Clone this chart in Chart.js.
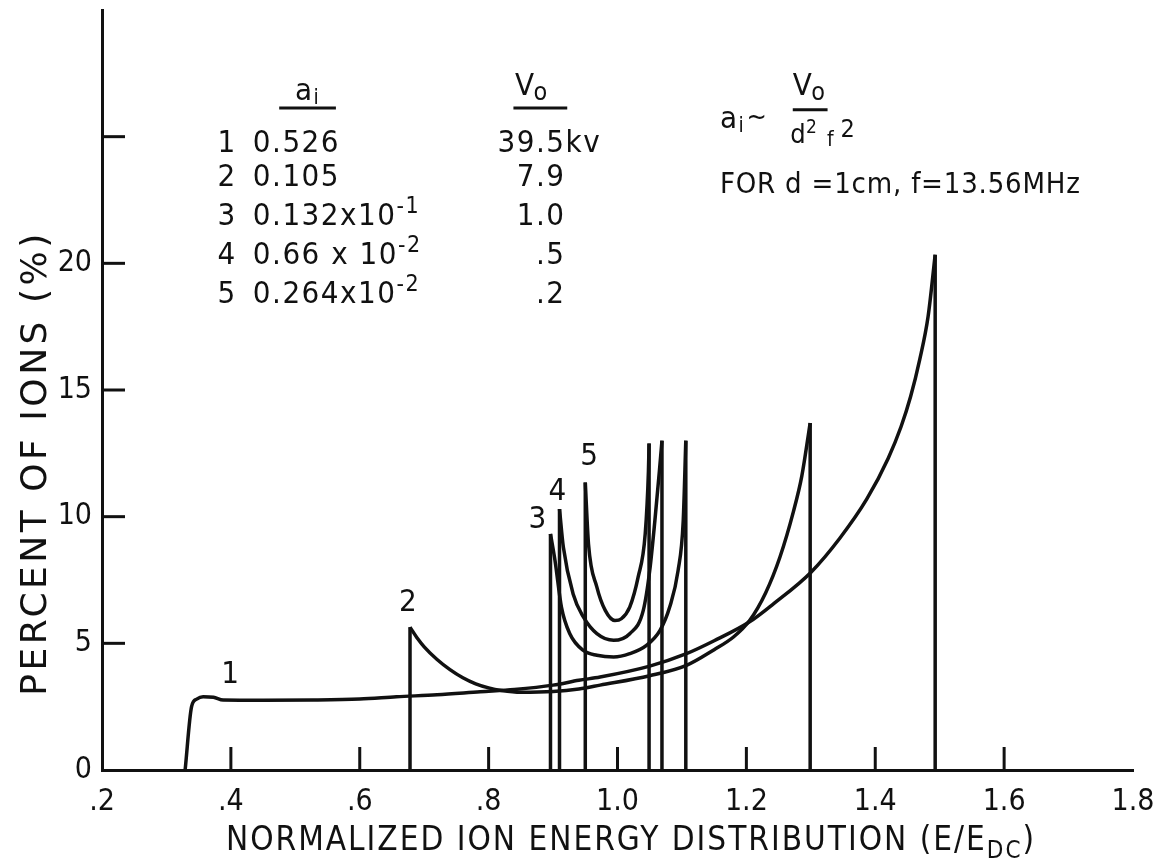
<!DOCTYPE html>
<html>
<head>
<meta charset="utf-8">
<title>Normalized ion energy distribution</title>
<script src="https://cdn.jsdelivr.net/npm/chart.js@4.4.1/dist/chart.umd.min.js"></script>
<style>
  body { margin: 0; background: #fff; }
  canvas { display: block; }
</style>
</head>
<body>
<canvas id="ionChart" width="1162" height="861"></canvas>
<script>

// ------------ AXES ------------ //

var xTicks = [0.2, 0.4, 0.6, 0.8, 1.0, 1.2, 1.4, 1.6, 1.8];
var xTickLabels = [".2", ".4", ".6", ".8", "1.0", "1.2", "1.4", "1.6", "1.8"];
var yTicks = [0, 5, 10, 15, 20, 25];
var yTickLabels = ["0", "5", "10", "15", "20", ""];

// ------------ CURVES ------------ //

var curve1X = [0.329, 0.339, 0.347, 0.357, 0.373, 0.388, 0.45, 0.528, 0.60, 0.657, 0.72, 0.787, 0.84, 0.90, 0.94, 0.973, 1.05, 1.107, 1.15, 1.205, 1.242, 1.30, 1.345, 1.387, 1.42, 1.44, 1.455, 1.469, 1.482, 1.493];
var curve1Y = [0, 2.5, 2.8, 2.89, 2.87, 2.76, 2.75, 2.76, 2.8, 2.89, 2.97, 3.09, 3.18, 3.35, 3.54, 3.67, 4.1, 4.59, 5.1, 5.85, 6.56, 7.8, 9.15, 10.7, 12.3, 13.55, 14.75, 16.2, 17.9, 20.34];

var curve2X = [0.678, 0.69, 0.70, 0.72, 0.74, 0.76, 0.78, 0.80, 0.82, 0.85, 0.90, 0.94, 0.973, 1.05, 1.107, 1.15, 1.18, 1.205, 1.23, 1.252, 1.273, 1.286, 1.299];
var curve2Y = [5.64, 5.18, 4.86, 4.36, 3.96, 3.64, 3.40, 3.24, 3.14, 3.07, 3.1, 3.2, 3.35, 3.72, 4.13, 4.75, 5.25, 5.9, 7.0, 8.4, 10.2, 11.6, 13.7];

var curve3X = [0.896, 0.903, 0.913, 0.926, 0.947, 0.968, 0.994, 1.019, 1.045, 1.066, 1.081, 1.094, 1.102, 1.106];
var curve3Y = [9.32, 8.27, 6.43, 5.38, 4.72, 4.53, 4.46, 4.59, 4.92, 5.51, 6.43, 7.87, 9.84, 13.0];

var curve4X = [0.910, 0.916, 0.931, 0.947, 0.968, 0.994, 1.019, 1.040, 1.050, 1.058, 1.065, 1.069];
var curve4Y = [10.3, 8.79, 6.96, 6.04, 5.38, 5.12, 5.38, 6.3, 7.87, 9.84, 11.8, 13.0];

var curve5X = [0.950, 0.955, 0.968, 0.981, 0.996, 1.006, 1.019, 1.032, 1.043, 1.048, 1.049];
var curve5Y = [11.35, 8.92, 7.22, 6.30, 5.9, 5.97, 6.43, 7.61, 9.32, 11.8, 12.89];

var curveNames = ["1", "2", "3", "4", "5"];

// ------------ TABLE ------------ //

var tableA = ["0.526", "0.105", "0.132x10", "0.66 x 10", "0.264x10"];
var tableAExp = ["", "", "-1", "-2", "-2"];
var tableV = ["39.5kv", "7.9", "1.0", ".5", ".2"];

var ink = "#111";
var family = "'DejaVu Sans Condensed', 'DejaVu Sans', sans-serif";
function font(size, fam) {
    return size + "px " + (fam || family);
}

var curves = [
    { xs: curve1X, ys: curve1Y },
    { xs: curve2X, ys: curve2Y },
    { xs: curve3X, ys: curve3Y },
    { xs: curve4X, ys: curve4Y },
    { xs: curve5X, ys: curve5Y }
];

var datasets = [];
curves.forEach(function (c, i) {
    var pts = c.xs.map(function (x, k) { return { x: x, y: c.ys[k] }; });
    datasets.push({
        label: "curve " + curveNames[i],
        data: pts,
        borderColor: ink,
        borderWidth: 3.5,
        pointRadius: 0,
        fill: false,
        tension: 0.4,
        cubicInterpolationMode: "monotone"
    });
    // vertical edges of the distribution, down to the baseline
    var first = pts[0], last = pts[pts.length - 1];
    var edges = [];
    if (first.y > 0) edges.push([{ x: first.x, y: 0 }, first]);
    edges.push([last, { x: last.x, y: 0 }]);
    edges.forEach(function (e) {
        datasets.push({
            data: e,
            borderColor: ink,
            borderWidth: 3.5,
            pointRadius: 0,
            fill: false,
            tension: 0
        });
    });
});

// inner ticks, labels, table, formula and axis titles
var annotate = {
    id: "annotate",
    afterDraw: function (chart) {
        var ctx = chart.ctx, xs = chart.scales.x, ys = chart.scales.y, area = chart.chartArea;
        var X = function (v) { return xs.getPixelForValue(v); };
        var Y = function (v) { return ys.getPixelForValue(v); };
        ctx.save();
        ctx.strokeStyle = ink;
        ctx.fillStyle = ink;
        ctx.lineWidth = 3;

        xTicks.forEach(function (v) {
            if (v <= xs.min || v >= xs.max) return;
            ctx.beginPath();
            ctx.moveTo(X(v), area.bottom);
            ctx.lineTo(X(v), area.bottom - 23);
            ctx.stroke();
        });
        yTicks.forEach(function (v) {
            if (v <= ys.min) return;
            ctx.beginPath();
            ctx.moveTo(area.left, Y(v));
            ctx.lineTo(area.left + 23, Y(v));
            ctx.stroke();
        });

        function text(str, x, y, size, align, fam) {
            ctx.font = font(size, fam);
            ctx.textAlign = align || "left";
            ctx.fillText(str, x, y);
            return ctx.measureText(str).width;
        }

        ctx.letterSpacing = "1.5px";

        // curve numbers
        var labelPos = [[0.400, 3.75], [0.676, 6.59], [0.877, 9.87], [0.908, 10.98], [0.957, 12.36]];
        ctx.textBaseline = "middle";
        curveNames.forEach(function (n, i) {
            text(n, X(labelPos[i][0]), Y(labelPos[i][1]), 31, "center");
        });
        ctx.textBaseline = "alphabetic";

        // table headers
        var w = text("a", X(0.4995), Y(26.45), 31);
        text("i", X(0.4995) + w, Y(26.3), 21);
        ctx.beginPath();
        ctx.moveTo(X(0.475), Y(26.13));
        ctx.lineTo(X(0.563), Y(26.13));
        ctx.moveTo(X(0.8385), Y(26.13));
        ctx.lineTo(X(0.922), Y(26.13));
        ctx.stroke();
        w = text("V", X(0.841), Y(26.65), 31);
        text("o", X(0.841) + w - 2, Y(26.45), 25);

        // table rows
        var rowY = [24.40, 23.06, 21.52, 19.98, 18.44];
        tableA.forEach(function (s, i) {
            text(curveNames[i], X(0.394), Y(rowY[i]), 31, "center");
            var wa = text(s, X(0.434), Y(rowY[i]), 31);
            if (tableAExp[i]) text(tableAExp[i], X(0.434) + wa, Y(rowY[i] + 0.45), 23);
            var dot = tableV[i].indexOf(".");
            var xd = X(0.8735);
            text(tableV[i].slice(0, dot), xd, Y(rowY[i]), 31, "right");
            text(tableV[i].slice(dot), xd, Y(rowY[i]), 31, "left");
        });

        // scaling formula
        w = text("a", X(1.159), Y(25.35), 31);
        text("i", X(1.159) + w, Y(25.2), 21);
        text("~", X(1.2), Y(25.45), 27);
        w = text("V", X(1.272), Y(26.65), 31);
        text("o", X(1.272) + w - 2, Y(26.45), 25);
        ctx.beginPath();
        ctx.moveTo(X(1.272), Y(26.06));
        ctx.lineTo(X(1.326), Y(26.06));
        ctx.stroke();
        w = text("d", X(1.268), Y(24.75), 27);
        text("2", X(1.268) + w - 1, Y(25.15), 19);
        text("f", X(1.325), Y(24.65), 21);
        text("2", X(1.346), Y(25.0), 25);
        ctx.letterSpacing = "0.8px";
        text("FOR d =1cm, f=13.56MHz", X(1.159), Y(22.78), 29);

        // x axis title with subscript
        ctx.letterSpacing = "2px";
        var main = "NORMALIZED ION ENERGY DISTRIBUTION (E/E", sub = "DC", tail = ")";
        ctx.font = font(33);
        var wMain = ctx.measureText(main).width, wTail = ctx.measureText(tail).width;
        ctx.font = font(24);
        var wSub = ctx.measureText(sub).width;
        var x0 = area.left + 529 - (wMain + wSub + wTail) / 2;
        var yb = area.bottom + 80;
        text(main, x0, yb, 33);
        text(sub, x0 + wMain, yb + 8, 24);
        text(tail, x0 + wMain + wSub, yb, 33);

        // y axis title
        ctx.letterSpacing = "3.5px";
        ctx.save();
        ctx.translate(area.left - 56, area.top + 453);
        ctx.rotate(-Math.PI / 2);
        text("PERCENT OF IONS (%)", 0, 0, 36, "center", "'DejaVu Sans', sans-serif");
        ctx.restore();

        ctx.restore();
    }
};

new Chart("ionChart", {
    type: "line",
    data: { datasets: datasets },
    options: {
        responsive: false,
        animation: false,
        devicePixelRatio: 1,
        layout: { padding: { left: 0, right: 29, top: 10, bottom: 0 } },
        plugins: {
            legend: { display: false },
            tooltip: { enabled: false }
        },
        scales: {
            x: {
                type: "linear",
                min: 0.2,
                max: 1.8,
                afterFit: function (s) {
                    s.height = 91;
                    s.paddingLeft = 0;
                    s.paddingRight = 0;
                },
                afterBuildTicks: function (s) {
                    s.ticks = xTicks.map(function (v) { return { value: v }; });
                },
                ticks: {
                    autoSkip: false,
                    maxRotation: 0,
                    padding: 14,
                    color: ink,
                    font: { family: family, size: 30 },
                    callback: function (v) { return xTickLabels[xTicks.indexOf(v)]; }
                },
                grid: { display: false, drawTicks: false },
                border: { color: ink, width: 3 }
            },
            y: {
                min: 0,
                max: 30,
                afterFit: function (s) {
                    s.width = 102;
                    s.paddingTop = 0;
                    s.paddingBottom = 0;
                },
                afterBuildTicks: function (s) {
                    s.ticks = yTicks.map(function (v) { return { value: v }; });
                },
                ticks: {
                    autoSkip: false,
                    padding: 10,
                    color: ink,
                    font: { family: family, size: 30 },
                    callback: function (v) { return yTickLabels[yTicks.indexOf(v)]; }
                },
                grid: { display: false, drawTicks: false },
                border: { color: ink, width: 3 }
            }
        }
    },
    plugins: [annotate]
});
</script>
</body>
</html>
